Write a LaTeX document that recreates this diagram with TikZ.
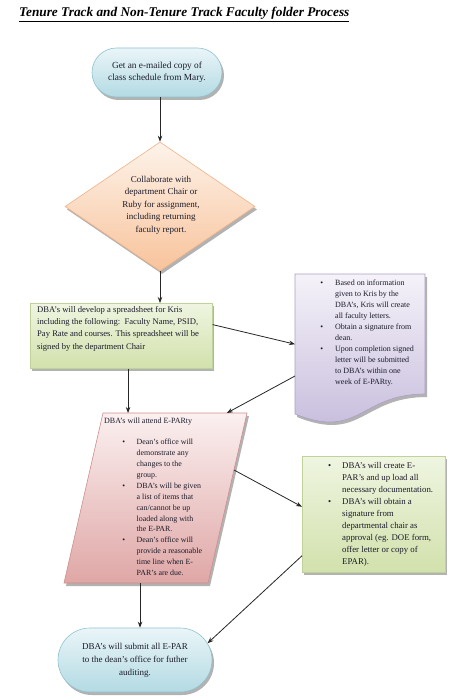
\documentclass[tikz,border=0pt]{standalone}
\usepackage{fontspec}
\setmainfont{Liberation Serif}
\usetikzlibrary{shapes.geometric,shapes.misc,shadows,calc,arrows.meta}
\definecolor{txt}{HTML}{1B1B2A}
\definecolor{bluetop}{HTML}{EAF5F8}
\definecolor{bluebot}{HTML}{B3DAE3}
\definecolor{blueln}{HTML}{8FC3D0}
\definecolor{peachtop}{HTML}{FDF3EA}
\definecolor{peachbot}{HTML}{F8C39B}
\definecolor{peachln}{HTML}{F2B286}
\definecolor{greentop}{HTML}{EFF5E1}
\definecolor{greenbot}{HTML}{D2E1AC}
\definecolor{greenln}{HTML}{BFD398}
\definecolor{purptop}{HTML}{F5F2F9}
\definecolor{purpbot}{HTML}{C4BADB}
\definecolor{purpln}{HTML}{AE9FC6}
\definecolor{pinktop}{HTML}{FBF0F0}
\definecolor{pinkbot}{HTML}{DFA7A6}
\definecolor{pinkln}{HTML}{CF8E8C}
\newcommand{\bul}[1]{\llap{\textbullet\hspace{#1}}}
\begin{document}
\begin{tikzpicture}[x=1pt,y=-1pt,
  conn/.style={draw=black!85,line width=0.8pt,-{Stealth[length=6pt,width=4.5pt]}},
  shad/.style={drop shadow={shadow xshift=2pt,shadow yshift=-3pt,opacity=0.3,fill=black}},
  box/.style={shad,line width=0.6pt,inner sep=0pt},
  term/.style={box,rounded rectangle,draw=blueln,top color=bluetop,bottom color=bluebot,text=txt,align=center},
  body/.style={anchor=north west,inner sep=0pt,align=left,text=txt},
]
\useasboundingbox (0,0) rectangle (457,700);
\fill[white] (0,0) rectangle (457,700);

\node[anchor=base west,inner sep=0pt,font=\fontsize{13.3}{15}\selectfont\bfseries\itshape,text=black] (title) at (19,17) {\underline{Tenure Track and Non-Tenure Track Faculty folder Process}};

\node[term,minimum width=130pt,minimum height=49pt,font=\fontsize{9.3}{11.7}\selectfont] (t1) at (157,72.5) {Get an e-mailed copy of\\class schedule from Mary.};

\node[box,diamond,minimum width=190pt,minimum height=129pt,draw=peachln,top color=peachtop,bottom color=peachbot] (d1) at (160,206.5) {};
\node[align=center,text=txt,font=\fontsize{9}{12.5}\selectfont] (d1t) at (161,205) {Collaborate with\\department Chair or\\Ruby for assignment,\\including returning\\faculty report.};

\node[box,rectangle,minimum width=182pt,minimum height=65pt,anchor=north west,draw=greenln,top color=greentop,bottom color=greenbot] (g1) at (30,303) {};
\node[body,font=\fontsize{8.6}{12.3}\selectfont] (g1t) at (37,306) {DBA’s will develop a spreadsheet for Kris\\including the following:\ \ Faculty Name, PSID,\\Pay Rate and courses. This spreadsheet will be\\signed by the department Chair};

\path[shad,draw=purpln,line width=0.6pt,top color=purptop,bottom color=purpbot] (295,274) -- (425,274) -- (425,394) .. controls (360,394) and (360,440) .. (295,414) -- cycle;
\node[inner sep=0pt,minimum width=130pt,minimum height=140pt,anchor=north west] (doc) at (295,274) {};
\node[body,font=\fontsize{8}{11}\selectfont] (doct) at (335,280) {\bul{12pt}Based on information\\given to Kris by the\\DBA’s, Kris will create\\all faculty letters.\\\bul{12pt}Obtain a signature from\\dean.\\\bul{12pt}Upon completion signed\\letter will be submitted\\to DBA’s within one\\week of E-PARty.};

\coordinate (pTL) at (103,413);
\coordinate (pTR) at (247,413);
\coordinate (pBR) at (208,583);
\coordinate (pBL) at (64,583);
\path[shad,draw=pinkln,line width=0.6pt,top color=pinktop,bottom color=pinkbot] (pTL) -- (pTR) -- (pBR) -- (pBL) -- cycle;
\node[body,font=\fontsize{8}{11}\selectfont] (pkh) at (104,418) {DBA’s will attend E-PARty};
\node[body,font=\fontsize{7.9}{10.9}\selectfont] (pkt) at (136.5,439) {\bul{11.5pt}Dean’s office will\\demonstrate any\\changes to the\\group.\\\bul{11.5pt}DBA’s will be given\\a list of items that\\can/cannot be up\\loaded along with\\the E-PAR.\\\bul{11.5pt}Dean’s office will\\provide a reasonable\\time line when E-\\PAR’s are due.};

\node[box,rectangle,minimum width=143pt,minimum height=116pt,anchor=north west,draw=greenln,top color=greentop,bottom color=greenbot] (g2) at (302,456) {};
\node[body,font=\fontsize{8.8}{11.9}\selectfont] (g2t) at (342,462.5) {\bul{11pt}DBA’s will create E-\\PAR’s and up load all\\necessary documentation.\\\bul{11pt}DBA’s will obtain a\\signature from\\departmental chair as\\approval (eg. DOE form,\\offer letter or copy of\\EPAR).};

\node[term,minimum width=154pt,minimum height=64pt,font=\fontsize{9}{13}\selectfont] (t2) at (135,660) {DBA’s will submit all E-PAR\\to the dean’s office for futher\\auditing.};

\draw[conn] (d1.north |- t1.south) -- (d1.north);
\draw[conn] (d1.south) -- (d1.south |- g1.north);
\draw[conn] (g1.7) -- (doc.west);
\coordinate (pin) at ($(pTL)!0.174!(pTR)$);
\draw[conn] (pin |- g1.south) -- (pin);
\draw[conn] (doc.206) -- ($(pTL)!0.86!(pTR)$);
\draw[conn] ($(pTR)!0.335!(pBR)$) -- (g2.174);
\coordinate (pout) at ($(pBL)!0.528!(pBR)$);
\draw[conn] (pout) -- (pout |- t2.north);
\draw[conn] (g2.210) -- (t2.13);
\end{tikzpicture}
\end{document}
